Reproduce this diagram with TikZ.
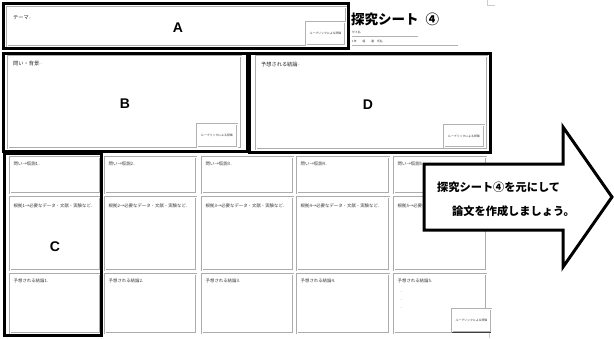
\documentclass[tikz,border=0pt]{standalone}
\usepackage{fontspec}
\newfontfamily\jp{Noto Sans CJK JP}
\newfontfamily\lat{Liberation Sans}
\newfontfamily\dv{DejaVu Sans}
\begin{document}
\begin{tikzpicture}[x=1pt,y=-1pt,
  thickbox/.style={draw=black, line width=3pt},
  cellbox/.style={draw=gray!65, double=white, double distance=0.8pt, line width=0.55pt},
  rubricbox/.style={draw=gray!60, double=white, double distance=0.5pt, line width=0.6pt, fill=white},
  tinytext/.style={font=\jp\fontsize{4.4}{5}\selectfont, text=gray!45!black, anchor=west, inner sep=0pt},
  smalllabel/.style={font=\jp\fontsize{5.2}{6}\selectfont, text=gray!30!black, anchor=west, inner sep=0pt},
  rubrictext/.style={font=\jp\fontsize{2.9}{3}\selectfont, text=gray!40!black, inner sep=0pt},
  bigletter/.style={font=\lat\bfseries\fontsize{14}{14}\selectfont, inner sep=0pt},
  arrowtext/.style={font=\jp\bfseries\fontsize{11.2}{12}\selectfont, anchor=west, inner sep=0pt},
  ruleline/.style={draw=gray!60, line width=0.5pt}
]
\useasboundingbox[fill=white] (0,0) rectangle (614,338);

% ---- top sheet area A ----
\draw[cellbox] (7,7) rectangle (346,46);
\node[smalllabel] (themeLbl) at (13,18) {テーマ{\dv\fontsize{3.5}{4}\selectfont\color{gray!50}↵}};
\draw[rubricbox] (306,22) rectangle (345,45);
\node[rubrictext] (rubA) at (325.5,33.5) {ルーブリックによる評価};
\draw[thickbox] (3.5,3.5) rectangle (348,48);
\node[bigletter] (A) at (178,28) {A};

% ---- title ----
\node[font=\jp\bfseries\fontsize{13.5}{14}\selectfont, anchor=west, inner sep=0pt] (title) at (351,19) {探究シート\hspace{7pt}④};
\node[font=\jp\fontsize{2.8}{3}\selectfont, text=gray!40!black, anchor=west, inner sep=0pt] (zemi) at (352,32.5) {ゼミ名};
\draw[ruleline] (352,36) -- (418,36);
\node[font=\jp\fontsize{2.8}{3}\selectfont, text=gray!40!black, anchor=west, inner sep=0pt] (name) at (352,41.5) {1年\hspace{6pt}組\hspace{6pt}番\hspace{3pt}氏名};
\draw[ruleline] (352,45) -- (458,45);
\draw[draw=gray!40, line width=0.5pt] (487,0) -- (487,5) -- (495,5);

% ---- B ----
\draw[cellbox] (8,56) rectangle (241,148);
\node[smalllabel] (bgLbl) at (13,64) {問い・背景{\dv\fontsize{3.5}{4}\selectfont\color{gray!50}↵}};
\draw[rubricbox] (197,124) rectangle (237,147);
\node[rubrictext] (rubB) at (217,135.5) {ルーブリックによる評価};
\draw[thickbox] (3.5,53.5) rectangle (247,151.5);
\node[bigletter] (B) at (125,104) {B};

% ---- D ----
\draw[cellbox] (256,56) rectangle (487,149);
\node[smalllabel] (concLbl) at (261,65) {予想される結論{\dv\fontsize{3.5}{4}\selectfont\color{gray!50}↵}};
\draw[rubricbox] (444,125) rectangle (484,147);
\node[rubrictext] (rubD) at (464,136) {ルーブリックによる評価};
\draw[thickbox] (249.5,53.5) rectangle (490,152);
\node[bigletter] (D) at (368,105) {D};

% ---- grid ----
\foreach \i/\xa/\xb in {1/10/100, 2/105/196, 3/202/293, 4/297/389, 5/394/486} {
  \draw[cellbox] (\xa,157) rectangle (\xb,193);
  \draw[cellbox] (\xa,197) rectangle (\xb,270);
  \draw[cellbox] (\xa,274) rectangle (\xb,333);
  \node[tinytext] (q\i) at (\xa+3.5,163.5) {問い→仮説\i．};
  \node[tinytext] (c\i) at (\xa+3.5,281) {予想される結論\i．};
}
\foreach \i/\xa in {1/10, 2/105, 3/202, 4/297} {
  \node[tinytext] (r\i) at (\xa+3.5,206) {根拠\i→必要なデータ・文献・実験など．};
}
\begin{scope}
  \clip (394,197) rectangle (423,215);
  \node[tinytext] (r5) at (397.5,206) {根拠5→必要なデータ・文献・実験など．};
\end{scope}
\node[tinytext, text=gray!60] (dots) at (399,292) {・};
\node[tinytext, text=gray!60] at (399,300) {・};
\node[tinytext, text=gray!60] at (399,308) {・};
\draw[rubricbox] (452,309) rectangle (491,332);
\draw[draw=gray!50!black, line width=1pt] (452,332) -- (491,332);
\node[rubrictext] (rubE) at (471.5,320) {ルーブリックによる評価};
\draw[draw=gray!40, line width=0.5pt] (489,333) -- (489,338);

% ---- C ----
\draw[thickbox] (4.5,153.5) rectangle (101,335);
\node[bigletter] (C) at (55,247) {C};

% ---- arrow ----
\draw[line width=3pt, fill=white, line join=miter, miter limit=10]
  (424,164) -- (563,164) -- (563,127) -- (612,197) -- (563,267) -- (563,230) -- (424,230) -- cycle;
\node[arrowtext] (t1) at (437,187) {探究シート④を元にして};
\node[arrowtext] (t2) at (452,211) {論文を作成しましょう。};
\end{tikzpicture}
\end{document}
